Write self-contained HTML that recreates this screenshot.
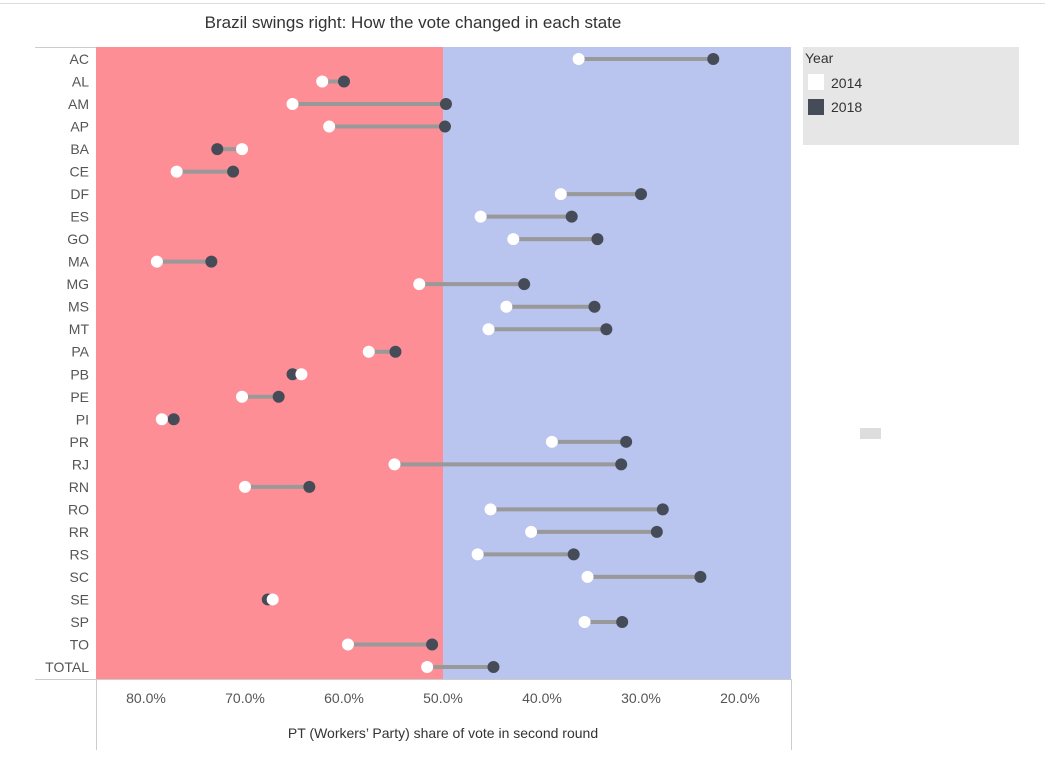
<!DOCTYPE html>
<html><head><meta charset="utf-8"><style>
body{margin:0;background:#fff;font-family:"Liberation Sans",sans-serif;}
</style></head><body>
<svg width="1045" height="755" xmlns="http://www.w3.org/2000/svg" font-family="Liberation Sans, sans-serif">
<line x1="0" y1="3.5" x2="1045" y2="3.5" stroke="#ddd"/>
<text x="413" y="28" text-anchor="middle" font-size="17" fill="#333">Brazil swings right: How the vote changed in each state</text>
<rect x="96" y="47" width="347" height="632" fill="#fe8e96"/>
<rect x="443" y="47" width="348" height="632" fill="#b9c4ef"/>
<line x1="35" y1="47.5" x2="96" y2="47.5" stroke="#ccc"/>
<line x1="35" y1="679.5" x2="791" y2="679.5" stroke="#ccc"/>
<line x1="96.5" y1="679" x2="96.5" y2="750" stroke="#ccc"/>
<line x1="791.5" y1="679" x2="791.5" y2="750" stroke="#ccc"/>
<g id="ticks"></g>
<text x="443" y="738" text-anchor="middle" font-size="14" fill="#333">PT (Workers’ Party) share of vote in second round</text>
<g id="rows"></g>
<rect x="803" y="47" width="216" height="98" fill="#e6e6e6"/>
<text x="805" y="63" font-size="14" fill="#333">Year</text>
<rect x="808" y="74" width="16" height="16" fill="#fff"/>
<text x="831" y="88" font-size="14" fill="#333">2014</text>
<rect x="808" y="99" width="16" height="16" fill="#464c57"/>
<text x="831" y="112" font-size="14" fill="#333">2018</text>
<rect x="860" y="428" width="21" height="11" fill="#ddd"/>
</svg>
<script>
const states=["AC","AL","AM","AP","BA","CE","DF","ES","GO","MA","MG","MS","MT","PA","PB","PE","PI","PR","RJ","RN","RO","RR","RS","SC","SE","SP","TO","TOTAL"];
const vote2014=[36.3,62.2,65.2,61.5,70.3,76.9,38.1,46.2,42.9,78.9,52.4,43.6,45.4,57.5,64.3,70.3,78.4,39.0,54.9,70.0,45.2,41.1,46.5,35.4,67.2,35.7,59.6,51.6];
const vote2018=[22.7,60.0,49.7,49.8,72.8,71.2,30.0,37.0,34.4,73.4,41.8,34.7,33.5,54.8,65.2,66.6,77.2,31.5,32.0,63.5,27.8,28.4,36.8,24.0,67.7,31.9,51.1,44.9];
const tickValues=[80,70,60,50,40,30,20];
const NS="http://www.w3.org/2000/svg";
const xScale=v=>443+(50-v)*9.9;
const yScale=i=>59+i*(667-59)/(states.length-1);
const tg=document.getElementById('ticks');
tickValues.forEach(t=>{
 const tx=document.createElementNS(NS,'text');
 tx.setAttribute('x',xScale(t));tx.setAttribute('y',703);tx.setAttribute('text-anchor','middle');
 tx.setAttribute('font-size','14');tx.setAttribute('fill','#555');
 tx.textContent=t.toFixed(1)+'%';
 
 
 tg.appendChild(tx);
});
const rg=document.getElementById('rows');
states.forEach((s,i)=>{
 const y=yScale(i);
 const lb=document.createElementNS(NS,'text');
 lb.setAttribute('x',89);lb.setAttribute('y',y+5);lb.setAttribute('text-anchor','end');
 lb.setAttribute('font-size','14');lb.setAttribute('fill','#555');lb.textContent=s;
 
 
 rg.appendChild(lb);
 const ln=document.createElementNS(NS,'line');
 ln.setAttribute('x1',xScale(vote2014[i]));ln.setAttribute('x2',xScale(vote2018[i]));
 ln.setAttribute('y1',y);ln.setAttribute('y2',y);ln.setAttribute('stroke','#999');ln.setAttribute('stroke-width','4');
 
 
 rg.appendChild(ln);
 const d=document.createElementNS(NS,'circle');
 d.setAttribute('cx',xScale(vote2018[i]));d.setAttribute('cy',y);d.setAttribute('r',6);d.setAttribute('fill','#464c57');
 
 
 rg.appendChild(d);
 const w=document.createElementNS(NS,'circle');
 w.setAttribute('cx',xScale(vote2014[i]));w.setAttribute('cy',y);w.setAttribute('r',6);w.setAttribute('fill','#fff');
 
 
 rg.appendChild(w);
});
</script>
</body></html>
